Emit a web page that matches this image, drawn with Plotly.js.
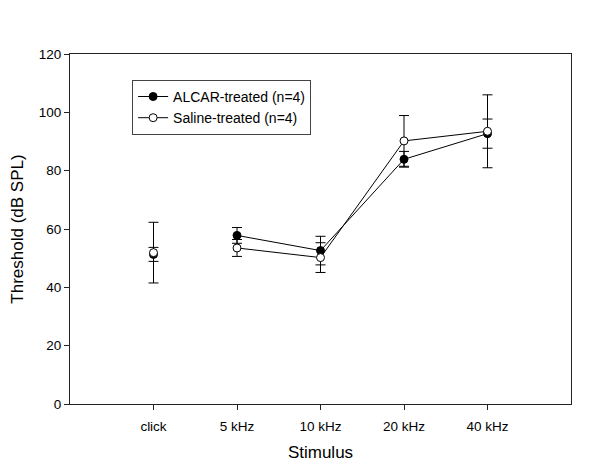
<!DOCTYPE html>
<html>
<head>
<meta charset="utf-8">
<script src="https://cdn.plot.ly/plotly-3.0.1.min.js"></script>
<style>html,body{margin:0;padding:0;background:#fff;}#chart{width:600px;height:467px;}</style>
</head>
<body>
<div id="chart"></div>
<script>
// Stimulus categories
const categories = ['click', '5 kHz', '10 kHz', '20 kHz', '40 kHz'];

// ALCAR-treated (n=4): mean thresholds (dB SPL) and error
const alcarMean = [51.3, 57.8, 52.6, 83.9, 92.7];
const alcarErr  = [2.4, 2.7, 4.9, 2.7, 5.0];

// Saline-treated (n=4): mean thresholds (dB SPL) and error
const salineMean = [51.9, 53.5, 50.2, 90.2, 93.5];
const salineErr  = [10.4, 2.9, 5.1, 8.7, 12.5];

const yTicks = [0, 20, 40, 60, 80, 100, 120];

const FONT = 'Arial, "Liberation Sans", sans-serif';

function series(name, mean, err, fill) {
  const common = {
    type: 'scatter',
    marker: {symbol: 'circle', size: 8, color: fill, line: {color: '#000', width: 1}},
    line: {color: '#000', width: 1},
    error_y: {type: 'data', symmetric: true, color: '#000', thickness: 1, width: 5},
    cliponaxis: false
  };
  // connected points (5 kHz .. 40 kHz)
  const connected = Object.assign({}, common, {
    name: name,
    mode: 'lines+markers',
    x: categories.slice(1),
    y: mean.slice(1),
    error_y: Object.assign({}, common.error_y, {array: err.slice(1)}),
    legendgroup: name
  });
  // isolated click point
  const click = Object.assign({}, common, {
    name: name,
    mode: 'markers',
    x: categories.slice(0, 1),
    y: mean.slice(0, 1),
    error_y: Object.assign({}, common.error_y, {array: err.slice(0, 1)}),
    legendgroup: name,
    showlegend: false
  });
  return [connected, click];
}

const data = [
  ...series('ALCAR-treated (n=4)', alcarMean, alcarErr, '#000'),
  ...series('Saline-treated (n=4)', salineMean, salineErr, '#fff')
];

const layout = {
  width: 600,
  height: 467,
  margin: {l: 70, r: 29, t: 54, b: 63},
  paper_bgcolor: '#fff',
  plot_bgcolor: '#fff',
  font: {family: FONT, color: '#000', size: 13.5},
  showlegend: true,
  legend: {
    x: 0.124, y: 0.926, xanchor: 'left', yanchor: 'top',
    tracegroupgap: 0,
    bgcolor: '#fff', bordercolor: '#444', borderwidth: 1,
    font: {family: FONT, size: 14, color: '#000'}
  },
  xaxis: {
    type: 'category',
    categoryorder: 'array',
    categoryarray: categories,
    range: [-1, 5],
    showline: true, mirror: true, linecolor: '#222', linewidth: 1,
    ticks: 'outside', ticklen: 5, tickcolor: '#222',
    showgrid: false, zeroline: false,
    ticklabelstandoff: 5,
    tickfont: {family: FONT, size: 13.5, color: '#000'},
    title: {text: 'Stimulus', font: {family: FONT, size: 17, color: '#000'}, standoff: 12}
  },
  yaxis: {
    range: [0, 120],
    tickvals: yTicks,
    showline: true, mirror: true, linecolor: '#222', linewidth: 1,
    ticks: 'outside', ticklen: 5, tickcolor: '#222',
    showgrid: false, zeroline: false,
    tickfont: {family: FONT, size: 13.5, color: '#000'},
    title: {text: 'Threshold (dB SPL)', font: {family: FONT, size: 17, color: '#000'}, standoff: 10}
  }
};

Plotly.newPlot('chart', data, layout, {displayModeBar: false, staticPlot: true});
</script>
</body>
</html>
